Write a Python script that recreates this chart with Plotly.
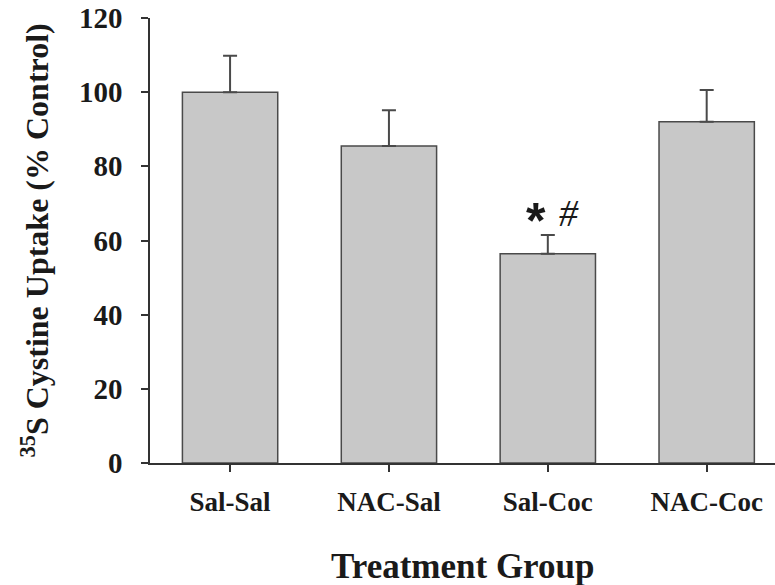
import plotly.graph_objects as go

groups = ["Sal-Sal", "NAC-Sal", "Sal-Coc", "NAC-Coc"]
uptake = [100.0, 85.5, 56.4, 92.0]
sem = [9.8, 9.6, 5.1, 8.6]
y_ticks = [0, 20, 40, 60, 80, 100, 120]

W, H = 775, 585
L, R, T, B = 150, 0, 18, 122

fig = go.Figure()
fig.add_trace(go.Bar(
    x=groups, y=uptake, width=0.6,
    marker=dict(color="#c8c8c8", line=dict(color="#4a4a4a", width=1.5)),
    error_y=dict(type="data", array=sem, arrayminus=[0] * 4, symmetric=False,
                 color="#4a4a4a", thickness=2, width=7),
))

font_family = "Liberation Serif"
fig.update_layout(
    width=W, height=H,
    margin=dict(l=L, r=R, t=T, b=B, pad=0, autoexpand=False),
    plot_bgcolor="white", paper_bgcolor="white",
    showlegend=False,
    font=dict(family=font_family, color="#1a1a1a"),
)
fig.update_xaxes(
    range=[-0.504, 3.43], showline=True, linecolor="#333333", linewidth=1.5,
    ticks="outside", ticklen=7, tickcolor="#333333", tickwidth=1.5,
    tickfont=dict(family=font_family, size=27, color="#1a1a1a", weight="bold"),
    ticklabelstandoff=7, showgrid=False, zeroline=False, automargin=False,
)
fig.update_yaxes(
    range=[0, 120], tickvals=y_ticks, showline=True, linecolor="#333333", linewidth=1.5,
    ticks="outside", ticklen=7, tickcolor="#333333", tickwidth=1.5,
    tickfont=dict(family=font_family, size=29, color="#1a1a1a", weight="bold"),
    ticklabelstandoff=13, ticklabeloverflow="allow",
    showgrid=False, zeroline=False, automargin=False,
)

fig.add_annotation(
    text="<sup>35</sup>S Cystine Uptake (% Control)", textangle=-90,
    xref="paper", yref="paper", x=0, y=0.5, xanchor="center", yanchor="middle",
    xshift=-116, showarrow=False,
    font=dict(family=font_family, size=32, color="#1a1a1a", weight="bold"),
)
fig.add_annotation(
    text="Treatment Group", xref="paper", yref="paper", x=0.5, y=0,
    xanchor="center", yanchor="middle", yshift=-103, showarrow=False,
    font=dict(family=font_family, size=35, color="#1a1a1a", weight="bold"),
)
fig.add_annotation(
    text="*", x="Sal-Coc", y=uptake[2] + sem[2], xref="x", yref="y",
    xanchor="center", yanchor="middle", xshift=-12, yshift=14, showarrow=False,
    font=dict(family="Liberation Sans", size=50, color="#1a1a1a", weight="bold"),
)
fig.add_annotation(
    text="<i>#</i>", x="Sal-Coc", y=uptake[2] + sem[2], xref="x", yref="y",
    xanchor="center", yanchor="middle", xshift=21, yshift=22, showarrow=False,
    font=dict(family=font_family, size=38, color="#1a1a1a"),
)

fig.write_html(
    "out.html",
    config={"displayModeBar": False},
    post_script="document.body.style.margin='0';document.body.style.overflow='hidden';",
)
